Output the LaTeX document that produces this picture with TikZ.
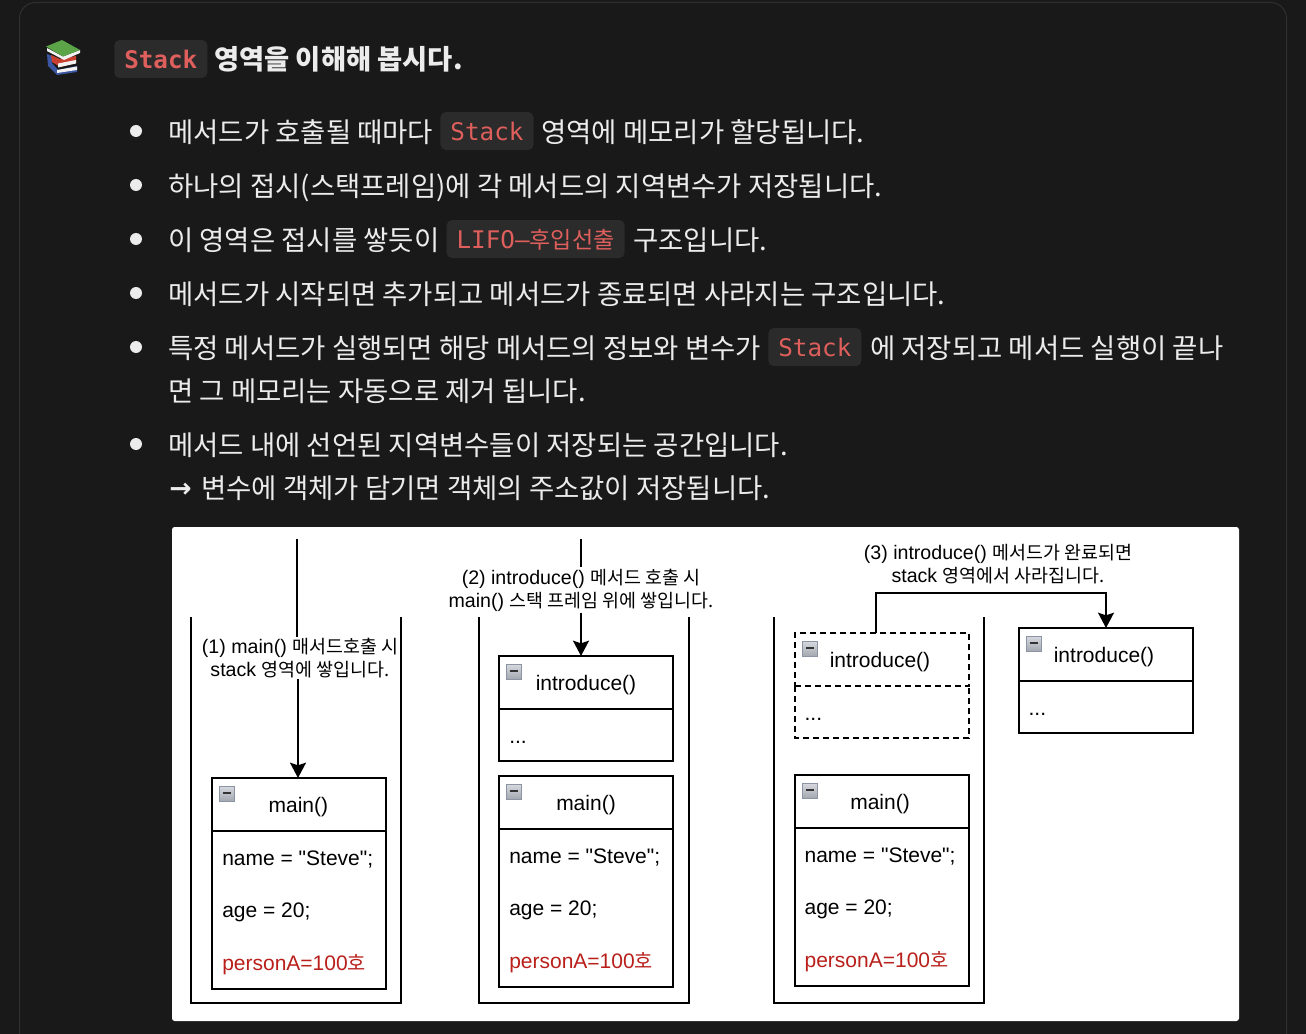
\documentclass[tikz,border=0pt]{standalone}
\usepackage{fontspec}
\usepackage{xcolor}
\usetikzlibrary{arrows.meta,positioning}
\setmainfont[Ligatures=TeXOff]{Liberation Sans}
\newfontfamily\krfont[Scale=0.94]{Noto Sans CJK KR}
\newfontfamily\bodyfont{Noto Sans CJK KR}
\newfontfamily\codefont{DejaVu Sans Mono}
\newfontfamily\arrowfont{DejaVu Sans}
\definecolor{pagebg}{HTML}{191919}
\definecolor{panelline}{HTML}{2F2F2F}
\definecolor{chipbg}{HTML}{2B2B2B}
\definecolor{chipred}{HTML}{DE5F5C}
\definecolor{bodyink}{HTML}{ECECEC}
\definecolor{rowred}{HTML}{B9201B}
\definecolor{iconedge}{HTML}{8C94A3}
\definecolor{icontop}{HTML}{D5D8DE}
\definecolor{iconlow}{HTML}{A3A7AF}
\definecolor{bookgreen}{HTML}{5BA548}
\definecolor{bookred}{HTML}{C83E2F}
\definecolor{bookblue}{HTML}{3B57A3}
\newcommand{\kr}[1]{{\krfont #1}}
\tikzset{
   bodytext/.style={anchor=base west, inner sep=0pt, text=bodyink, font=\bodyfont\fontsize{20.6pt}{24pt}\selectfont},
   headtext/.style={bodytext, font=\bodyfont\bfseries\fontsize{20.5pt}{24pt}\selectfont},
   chip/.style={fill=chipbg, rounded corners=4pt, text=chipred, inner xsep=7.5pt, inner ysep=0pt, text height=21pt, text depth=7.5pt, yshift=1.85pt, font=\codefont\fontsize{18.2pt}{22pt}\selectfont},
   dot/.style={circle, fill=bodyink, inner sep=0pt, minimum size=9pt},
   wall/.style={draw=black, line width=1.5pt},
   headbox/.style={draw=black, line width=1.5pt, outer sep=0pt, minimum width=130.5pt, minimum height=39.75pt, inner sep=0pt, text height=12.6pt, text depth=0pt, font=\fontsize{15.75pt}{18pt}\selectfont},
   rowbody/.style={draw=black, line width=1.5pt, outer sep=0pt, minimum width=130.5pt, minimum height=118.5pt},
   dotsbody/.style={draw=black, line width=1.5pt, outer sep=0pt, minimum width=130.5pt, minimum height=39pt},
   rowtext/.style={inner sep=0pt, text height=12pt, text depth=4pt, font=\fontsize{15.75pt}{18pt}\selectfont},
   minusicon/.style={draw=iconedge, top color=icontop, bottom color=iconlow, line width=.75pt, inner sep=0pt, minimum size=11pt, path picture={\draw[line width=1.1pt, black!80] ([shift={(-3pt,.6pt)}]path picture bounding box.center) -- ([shift={(3pt,.6pt)}]path picture bounding box.center);}},
   steplabel/.style={fill=white, align=center, inner xsep=0pt, inner ysep=1pt, font=\fontsize{14.7pt}{17.25pt}\selectfont},
   flowline/.style={draw=black, line width=1.5pt},
   flowarrow/.style={flowline, -{Stealth[length=11.5pt,width=12pt,inset=2pt]}}
}
\begin{document}
\begin{tikzpicture}[x=0.75pt,y=-0.75pt,node distance=5pt]
   \useasboundingbox (0,0) rectangle (1306,1034);
   \fill[pagebg] (0,0) rectangle (1306,1034);
   \draw[panelline, line width=.75pt, rounded corners=12pt] (19.5,1040) -- (19.5,2.5) -- (1286.5,2.5) -- (1286.5,1040);

   % books
   \fill[bookblue] (47,54) -- (52,56) -- (52,63) -- (58,70) -- (77,66) -- (77,72) -- (57,75) -- (48,66) -- cycle;
   \fill[white!90!gray] (57,70) -- (77,66.5) -- (77,70) -- (57,73) -- cycle;
   \fill[bookred] (51,55) -- (60,59) -- (76,56) -- (76,63) -- (60,67) -- (52,62) -- cycle;
   \fill[white!90!gray] (58,63.5) -- (76,60) -- (76,63.5) -- (58,67.5) -- cycle;
   \fill[white!90!gray] (47,48) -- (63,56.5) -- (80,50) -- (80,53) -- (64,60) -- (47,51) -- cycle;
   \fill[bookgreen] (46,46.5) -- (62,40) -- (80,50) -- (63,56.5) -- cycle;

   \node[chip, font=\codefont\bfseries\fontsize{18.2pt}{22pt}\selectfont, anchor=base west] (stackHead) at (114,70.5) {Stack};
   \node[headtext, at={(214,70)}] (headLine) {영역을 이해해 봅시다.};

   \node[dot] (dotA) at (136,131) {};
   \node[dot] (dotB) at (136,185) {};
   \node[dot] (dotC) at (136,239) {};
   \node[dot] (dotD) at (136,293) {};
   \node[dot] (dotE) at (136,347) {};
   \node[dot] (dotF) at (136,444) {};

   \node[bodytext] (lineA) at (168,142.5) {메서드가 호출될 때마다};
   \node[chip, base right=of lineA] (chipA) {Stack};
   \node[bodytext, at={(541,142.5)}] (lineAb) {영역에 메모리가 할당됩니다.};
   \node[bodytext] (lineB) at (168,196.5) {하나의 접시(스택프레임)에 각 메서드의 지역변수가 저장됩니다.};
   \node[bodytext] (lineC) at (168,250.5) {이 영역은 접시를 쌓듯이};
   \node[chip, base right=of lineC] (chipC) {LIFO–{\bodyfont\fontsize{17.3pt}{22pt}\selectfont 후입선출}};
   \node[bodytext, at={(633,250.5)}] (lineCb) {구조입니다.};
   \node[bodytext] (lineD) at (168,304.5) {메서드가 시작되면 추가되고 메서드가 종료되면 사라지는 구조입니다.};
   \node[bodytext] (lineE) at (168,358.5) {특정 메서드가 실행되면 해당 메서드의 정보와 변수가};
   \node[chip, base right=of lineE] (chipE) {Stack};
   \node[bodytext, at={(870,358.5)}] (lineEb) {에 저장되고 메서드 실행이 끝나};
   \node[bodytext] (lineF) at (168,401.5) {면 그 메모리는 자동으로 제거 됩니다.};
   \node[bodytext] (lineG) at (168,455.5) {메서드 내에 선언된 지역변수들이 저장되는 공간입니다.};
   \node[bodytext, font=\arrowfont\bfseries\fontsize{20pt}{24pt}\selectfont] (arrowH) at (169,497) {→};
   \node[bodytext] (lineH) at (201,498.5) {변수에 객체가 담기면 객체의 주소값이 저장됩니다.};

   \fill[white, rounded corners=2pt] (172,527) rectangle (1239,1021);

   \draw[wall] (190.5,617) -- (190.5,1003) -- (401,1003) -- (401,617);
   \draw[wall] (479,617) -- (479,1003) -- (689,1003) -- (689,617);
   \draw[wall] (774,617) -- (774,1003) -- (984,1003) -- (984,617);

   \node[headbox] (mainA) at (299,804.5) {main()\kern 1pt};
   \node[rowbody, below=0pt of mainA] (bodyA) {};
   \node[minusicon, below right=6pt and 5.5pt of mainA.north west] (iconA) {};
   \node[rowtext, below right=13.5pt and 7.5pt of bodyA.north west] (nameA) {name = "Steve";};
   \node[rowtext, below=23pt of nameA.south west, anchor=north west] (ageA) {age = 20;};
   \node[rowtext, below=23pt of ageA.south west, anchor=north west, text=rowred] (personA) {personA=100\kr{호}};

   \node[headbox] (mainB) at (586,802.5) {main()};
   \node[rowbody, below=0pt of mainB] (bodyB) {};
   \node[minusicon, below right=6pt and 5.5pt of mainB.north west] (iconB) {};
   \node[rowtext, below right=13.5pt and 7.5pt of bodyB.north west] (nameB) {name = "Steve";};
   \node[rowtext, below=23pt of nameB.south west, anchor=north west] (ageB) {age = 20;};
   \node[rowtext, below=23pt of ageB.south west, anchor=north west, text=rowred] (personB) {personA=100\kr{호}};
   \node[headbox] (introB) at (586,682.5) {introduce()};
   \node[dotsbody, below=0pt of introB] (dotsB) {};
   \node[minusicon, below right=6pt and 5.5pt of introB.north west] (iconBb) {};
   \node[rowtext, below right=13.5pt and 7.5pt of dotsB.north west] (restB) {...};

   \node[headbox] (mainC) at (882,801.5) {main()\kern 3pt};
   \node[rowbody, below=0pt of mainC] (bodyC) {};
   \node[minusicon, below right=6pt and 5.5pt of mainC.north west] (iconC) {};
   \node[rowtext, below right=13.5pt and 7pt of bodyC.north west] (nameC) {name = "Steve";};
   \node[rowtext, below=23pt of nameC.south west, anchor=north west] (ageC) {age = 20;};
   \node[rowtext, below=23pt of ageC.south west, anchor=north west, text=rowred] (personC) {personA=100\kr{호}};
   \node[headbox, dashed, dash pattern=on 4.5pt off 3pt] (introC) at (882,659.5) {introduce()\kern 3pt};
   \node[dotsbody, draw=none, below=0pt of introC] (dotsC) {};
   \draw[line width=1.5pt, dash pattern=on 4.5pt off 3pt] (introC.south west) -- (dotsC.south west) -- (dotsC.south east) -- (introC.south east);
   \node[minusicon, below right=6pt and 5.5pt of introC.north west] (iconCb) {};
   \node[rowtext, below right=13.5pt and 7pt of dotsC.north west] (restC) {...};

   \node[headbox] (introD) at (1106,654.5) {introduce()\kern 3pt};
   \node[dotsbody, below=0pt of introD] (dotsD) {};
   \node[minusicon, below right=6pt and 5.5pt of introD.north west] (iconD) {};
   \node[rowtext, below right=13.5pt and 7pt of dotsD.north west] (restD) {...};

   \coordinate (startA) at (297,539);
   \coordinate (startB) at (581,539);
   \coordinate (turnC) at (1106,593);

   \node[steplabel] (labelA) at (300,658) {(1) main() \kr{매서드호출 시}\\stack \kr{영역에 쌓입니다.}};
   \node[steplabel] (labelB) at (581,590) {(2) introduce() \kr{메서드 호출 시}\\main() \kr{스택 프레임 위에 쌓입니다.}};
   \node[steplabel] (labelC) at (998,564) {(3) introduce() \kr{메서드가 완료되면}\\stack \kr{영역에서 사라집니다.}};

   \draw[flowline] (startA) -- (startA |- labelA.north);
   \draw[flowarrow] ([xshift=-.75pt]labelA.south -| mainA.north) -- ([xshift=-.75pt]mainA.north);
   \draw[flowline] (startB) -- (startB |- labelB.north);
   \draw[flowarrow] (startB |- labelB.south) -- (startB |- introB.north);
   \draw[flowarrow] ([xshift=-4.5pt]introC.north) |- (turnC) -- (introD.north);
\end{tikzpicture}
\end{document}
